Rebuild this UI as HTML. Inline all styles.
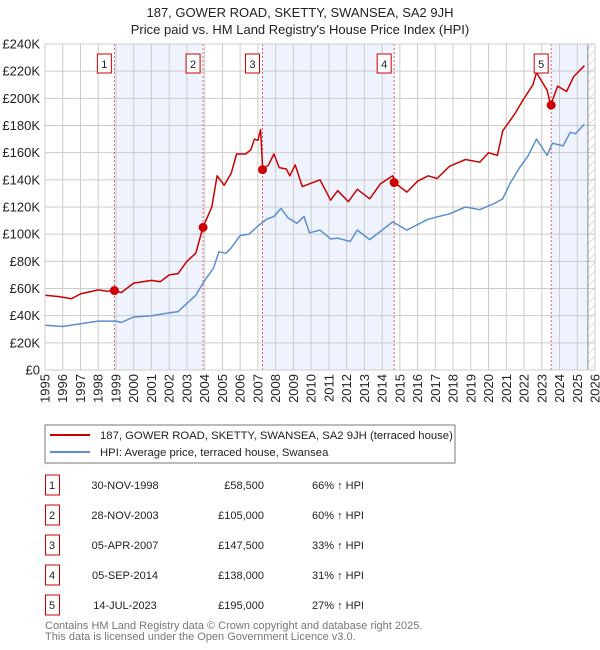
<!DOCTYPE html>
<html><head><meta charset="utf-8"><style>
body{margin:0;background:#fff;font-family:"Liberation Sans","DejaVu Sans",sans-serif;}
#wrap{position:relative;width:600px;height:650px;overflow:hidden}
</style></head><body>
<div id="wrap">
<svg id="chart" width="600" height="650" viewBox="0 0 600 650" xmlns="http://www.w3.org/2000/svg" font-family="Liberation Sans, DejaVu Sans, sans-serif">
<defs><pattern id="hatch" width="6" height="6" patternUnits="userSpaceOnUse" patternTransform="rotate(45)"><line x1="0" y1="0" x2="0" y2="6" stroke="#bbb" stroke-width="1"/></pattern></defs>
<text x="300" y="17" text-anchor="middle" font-size="13" fill="#222">187, GOWER ROAD, SKETTY, SWANSEA, SA2 9JH</text>
<text x="300" y="34" text-anchor="middle" font-size="13" fill="#222">Price paid vs. HM Land Registry's House Price Index (HPI)</text>
<g id="plot"></g>
<rect x="45" y="425" width="410" height="38" fill="#fff" stroke="#777"/>
<line x1="50" y1="435" x2="90" y2="435" stroke="#cc0000" stroke-width="2"/>
<text x="100" y="439" font-size="11.3" fill="#222">187, GOWER ROAD, SKETTY, SWANSEA, SA2 9JH (terraced house)</text>
<line x1="50" y1="452" x2="90" y2="452" stroke="#5b8fd0" stroke-width="2"/>
<text x="100" y="456" font-size="11.3" fill="#222">HPI: Average price, terraced house, Swansea</text>
<g id="table"></g>
<text x="45" y="629" font-size="11" fill="#777">Contains HM Land Registry data © Crown copyright and database right 2025.</text>
<text x="45" y="640" font-size="11" fill="#777">This data is licensed under the Open Government Licence v3.0.</text>
</svg>
</div>
<script>
const hpiYears=[1995,1996,1997,1998,1999,1999.3,2000,2001,2002,2002.5,2003,2003.5,2004,2004.5,2004.8,2005.2,2005.5,2006,2006.5,2007,2007.5,2007.9,2008.3,2008.7,2009.2,2009.6,2009.9,2010.5,2011.1,2011.5,2012.2,2012.6,2013.3,2014.6,2015.4,2016.6,2017.8,2018.7,2019.5,2020.4,2020.8,2021.2,2021.7,2022.2,2022.7,2023.3,2023.6,2024.2,2024.6,2024.9,2025.4];
const hpiValues=[33000,32000,34000,36000,36000,35000,39000,40000,42000,43000,49000,55000,66000,75000,87000,86000,90000,99000,100000,106000,111000,113000,119000,112000,108000,113000,101000,103000,96500,97000,94600,103000,96000,109000,103000,111000,115000,120000,118000,123000,126000,137000,148000,157000,170000,158000,167000,165000,175000,174000,181000];
const propYears=[1995,1995.8,1996.5,1997,1998,1998.5,1998.9,1999.3,2000,2000.5,2001,2001.5,2002,2002.5,2003,2003.5,2003.9,2004.4,2004.7,2005.1,2005.5,2005.8,2006.3,2006.6,2006.8,2007.0,2007.15,2007.27,2007.6,2007.9,2008.2,2008.6,2008.8,2009.1,2009.5,2010.5,2011.1,2011.5,2012.1,2012.6,2013.3,2013.9,2014.6,2014.7,2015.4,2016.0,2016.6,2017.1,2017.8,2018.7,2019.5,2020.0,2020.5,2020.8,2021.5,2021.9,2022.5,2022.7,2023.3,2023.5,2023.9,2024.4,2024.8,2025.4];
const propValues=[55000,54000,52500,56000,59000,58000,58500,57000,64000,65000,66000,65000,70000,71000,80000,86000,105000,120000,143000,136000,145000,159000,159000,162000,170000,169000,177000,147500,151000,159000,149000,148000,143000,151000,135000,140000,125000,132000,124000,133000,126000,137000,143000,138000,131000,139000,143000,141000,150000,155000,153000,160000,158000,176000,189000,198000,210000,219000,206000,195000,209000,205000,216000,224000];
const saleYears=[1998.91,2003.91,2007.26,2014.68,2023.53];
const salePrices=[58500,105000,147500,138000,195000];
const saleLabels=['1','2','3','4','5'];
const saleDates=['30-NOV-1998','28-NOV-2003','05-APR-2007','05-SEP-2014','14-JUL-2023'];
const salePriceText=['£58,500','£105,000','£147,500','£138,000','£195,000'];
const saleHpiText=['66% ↑ HPI','60% ↑ HPI','33% ↑ HPI','31% ↑ HPI','27% ↑ HPI'];
const yTicks=[0,20000,40000,60000,80000,100000,120000,140000,160000,180000,200000,220000,240000];
const yTickLabels=['£0','£20K','£40K','£60K','£80K','£100K','£120K','£140K','£160K','£180K','£200K','£220K','£240K'];
const xTicks=[1995,1996,1997,1998,1999,2000,2001,2002,2003,2004,2005,2006,2007,2008,2009,2010,2011,2012,2013,2014,2015,2016,2017,2018,2019,2020,2021,2022,2023,2024,2025,2026];
const dataEnd=2025.6;

const L=45,R=595,T=44,B=370,X0=1995,X1=2026,YMAX=240000;
const NS='http://www.w3.org/2000/svg';
function xs(v){return L+(v-X0)/(X1-X0)*(R-L);}
function ys(v){return B-v/YMAX*(B-T);}
function mk(tag,attrs,parent){const e=document.createElementNS(NS,tag);for(const k in attrs)e.setAttribute(k,attrs[k]);parent.appendChild(e);return e;}
const g=document.getElementById('plot');
const bg=mk('rect',{x:L,y:T,width:R-L,height:B-T,fill:'#fff'},g);


for(let i=0;i<saleYears.length;i+=2){
  const end=i+1<saleYears.length?saleYears[i+1]:dataEnd;
  const s=mk('rect',{x:xs(saleYears[i]),y:T,width:xs(end)-xs(saleYears[i]),height:B-T,fill:'#eef3fd'},g);
  
  
}
const h=mk('rect',{x:xs(dataEnd),y:T,width:R-xs(dataEnd),height:B-T,fill:'url(#hatch)'},g);


for(let i=0;i<xTicks.length;i++){
  const x=xs(xTicks[i]);
  const ln=mk('line',{x1:x,y1:T,x2:x,y2:B,stroke:'#ccc','stroke-width':1},g);
  
  
  const t=mk('text',{x:0,y:0,'font-size':13,fill:'#222','text-anchor':'end',transform:'translate('+(x+4.5)+','+(B+4)+') rotate(-90)'},g);
  t.textContent=xTicks[i];
  
  
}
for(let i=0;i<yTicks.length;i++){
  const y=ys(yTicks[i]);
  const ln=mk('line',{x1:L,y1:y,x2:R,y2:y,stroke:'#ccc','stroke-width':1},g);
  
  
  const t=mk('text',{x:40,y:y+4.5,'font-size':13,fill:'#222','text-anchor':'end'},g);
  t.textContent=yTickLabels[i];
  
  
}
const dl=mk('line',{x1:xs(dataEnd),y1:T,x2:xs(dataEnd),y2:B,stroke:'#888','stroke-width':1},g);


for(let i=0;i<saleYears.length;i++){
  const x=xs(saleYears[i]);
  const v=mk('line',{x1:x,y1:T,x2:x,y2:B,stroke:'#e06070','stroke-width':1,'stroke-dasharray':'2,2'},g);
  
  
}
function path(xa,va,color,name){
  let d='';for(let i=0;i<xa.length;i++)d+=(i?'L':'M')+xs(xa[i]).toFixed(1)+','+ys(va[i]).toFixed(1);
  const p=mk('path',{d:d,fill:'none',stroke:color,'stroke-width':1.5,'stroke-linejoin':'round'},g);
  
  
}
path(hpiYears,hpiValues,'#5b8fd0','hpi-line');
path(propYears,propValues,'#cc0000','property-line');
for(let i=0;i<saleYears.length;i++){
  const c=mk('circle',{cx:xs(saleYears[i]),cy:ys(salePrices[i]),r:4.5,fill:'#cc0000'},g);
  
  
  const x=xs(saleYears[i]);
  const b=mk('rect',{x:x-17,y:54,width:14,height:19,fill:'#fff',stroke:'#cc0000','stroke-width':1},g);
  
  
  const t=mk('text',{x:x-10,y:68,'font-size':11,fill:'#222','text-anchor':'middle'},g);
  t.textContent=saleLabels[i];
  
  
}
const fr=mk('rect',{x:L,y:T,width:R-L,height:B-T,fill:'none',stroke:'#ccc'},g);


const tb=document.getElementById('table');
for(let i=0;i<saleDates.length;i++){
  const y=475+i*30;
  const b=mk('rect',{x:45.5,y:y,width:14,height:20,fill:'#fff',stroke:'#cc0000'},tb);
  
  
  const cells=[[saleLabels[i],52,'middle'],[saleDates[i],125,'middle'],[salePriceText[i],264,'end'],[saleHpiText[i],312,'start']];
  const names=['table-row-number','table-row-date','table-row-price','table-row-hpi'];
  for(let j=0;j<cells.length;j++){
    const t=mk('text',{x:cells[j][1],y:y+14,'font-size':11,fill:'#222','text-anchor':cells[j][2]},tb);
    t.textContent=cells[j][0];
    
    
  }
}
</script>
</body></html>
